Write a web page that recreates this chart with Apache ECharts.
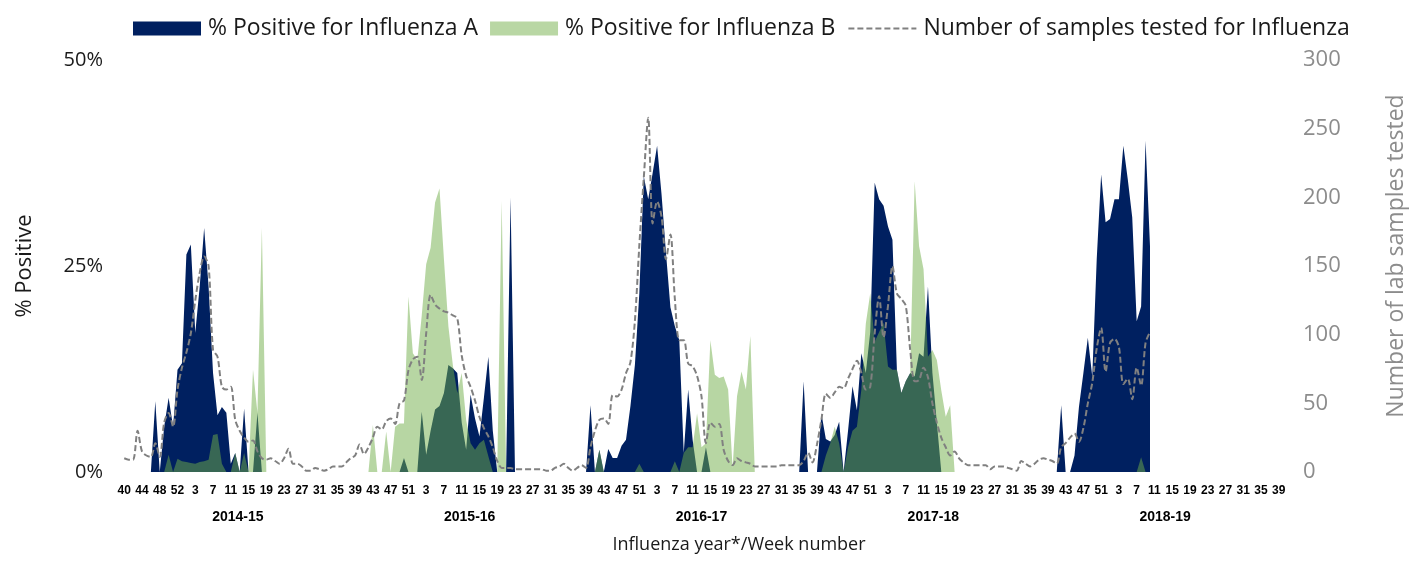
<!DOCTYPE html>
<html>
<head>
<meta charset="utf-8">
<script src="https://cdn.jsdelivr.net/npm/echarts@6/dist/echarts.min.js"></script>
<style>
  html, body { margin: 0; padding: 0; background: #fff; }
  #chart { width: 1419px; height: 561px; }
</style>
</head>
<body>
<div id="chart"></div>
<script>
// influenza seasons (week 40 -> week 39), 2014-15 has a week 53
const seasons = ['2014-15', '2015-16', '2016-17', '2017-18', '2018-19'];
const seasonLastWeek = [53, 52, 52, 52, 52];

// % positive for influenza A, one array per season
const fluA_1415 = [0,0,0,0,0,0,0,8.6,0,5.5, 9,5.5,12.4,13.2,26.4,27.6,16.9,22.5,29.6,22.5, 12,6.9,7.9,7.2,1,2.3,0,7.7,0,0, 7.2,0,0,0,0,0,0,0,0,0, 0,0,0,0,0,0,0,0,0,0, 0,0,0];
const fluA_1516 = [0,0,0,0,0,0,0,0,0,0, 1.7,0,0,0,7.3,2.1,5,7.6,8,9.6, 13,12.6,12,6,2.7,9.4,6.5,4.3,9,14, 5,0,0,0,33.3,0,0,0,0,0, 0,0,0,0,0,0,0,0,0,0, 0,0];
const fluA_1617 = [8.1,0,2.7,0,2.8,1.7,1.7,3.2,3.9,8, 13,21.7,35.9,33.1,36.3,39.6,33.7,26.6,20,17.7, 16,2.3,10,3.9,0,0,3,0,0,0, 0,0,0,0,0,0,0,0,0,0, 0,0,0,0,0,0,0,0,11,0, 0,0];
const fluA_1718 = [7.1,4,3.7,4.5,6.1,0,5,10.4,7.5,14.4, 12,17,35.1,33.1,32.3,29.8,28.2,12.4,9.6,11, 12,11.6,14.4,14,22.5,12,6,0,0,0, 0,0,0,0,0,0,0,0,0,0, 0,0,0,0,0,0,0,0,0,0, 0,0];
const fluA_1819 = [0,0,8.1,0,0,2,7.9,12,16.3,11.6, 25.8,36.1,30.3,30.7,33.1,33.1,39.6,35.5,30.9,18.3, 20.1,40.2,27.4,null,null,null,null,null,null,null, null,null,null,null,null,null,null,null,null,null, null,null,null,null,null,null,null,null,null,null, null,null];

// % positive for influenza B
const fluB_1415 = [0,0,0,0,0,0,0,0,0,0, 2.1,0,1.6,1.3,1.2,1.1,1,1.2,1.3,1.5, 4.5,4.6,1,0,0,2.3,0,2.3,0,12.4, 7.2,29.6,0,0,0,0,0,0,0,0, 0,0,0,0,0,0,0,0,0,0, 0,0,0];
const fluB_1516 = [0,0,0,5.7,0,0,4.9,0,5.5,5.9, 5.9,21.3,14.4,13.6,19,25.2,27.2,32.7,34.4,25.8, 17.7,13,9.6,12,6.3,3.5,2.7,3.5,3.9,1.9, 0,0,32.9,0,0,0,0,0,0,0, 0,0,0,0,0,0,0,0,0,0, 0,0];
const fluB_1617 = [0,0,2.7,0,0,0,0,0,0,0, 0,1,0,0,0,0,0,0,0,1.3, 0,2.3,3,3,7.1,3,3.5,16,11.8,11.4, 11.6,10,0.5,9.2,12.2,10,16.5,0,0,0, 0,0,0,0,0,0,0,0,0,0, 0,0];
const fluB_1718 = [0,2,3.5,5.5,3.5,0,3,5,5.5,10, 18,21.7,15.8,17,18.1,12.8,12.4,12.4,9.6,11, 12,35.3,27.4,24.6,14,14.8,13.6,9.9,6.7,8.1, 0,0,0,0,0,0,0,0,0,0, 0,0,0,0,0,0,0,0,0,0, 0,0];
const fluB_1819 = [0,0,0,0,0,0,0,0,0,0, 0,0,0,0,0,0,0,0,0,0, 1.8,0,0,null,null,null,null,null,null,null, null,null,null,null,null,null,null,null,null,null, null,null,null,null,null,null,null,null,null,null, null,null];

// number of samples tested
const tested_1415 = [10,9,9,30,15,12,11,21,11,36, 43,33,60,76,87,101,125,145,157,150, 89,84,62,60,62,38,30,25,22,23, 15,10,9,10,8,6,10,17,6,6, 4,1,1,3,2,1,2,4,4,4, 7,10,12];
const tested_1516 = [20,13,18,25,33,31,37,39,35,50, 52,74,82,84,67,101,129,122,119,117, 116,114,112,85,70,62,52,40,32,26, 18,8,3,3,3,2,2,2,2,2, 2,2,1,1,3,4,6,3,1,3, 5,3];
const tested_1617 = [18,30,38,39,35,56,55,60,72,80, 110,165,214,258,181,197,186,155,173,126, 96,96,79,77,70,55,21,36,33,35, 16,8,5,10,8,7,6,4,4,4, 4,4,4,5,5,5,5,5,8,14, 7,20];
const tested_1718 = [38,57,54,58,62,61,68,75,81,72, 60,62,101,128,98,121,150,130,126,121, 89,66,67,76,69,50,36,25,18,12, 15,10,7,5,5,5,5,5,2,4, 4,4,3,2,1,8,6,4,6,9, 10,9];
const tested_1819 = [8,6,18,21,25,28,22,32,50,65, 90,105,73,94,97,91,64,68,53,76, 63,94,102,null,null,null,null,null,null,null, null,null,null,null,null,null,null,null,null,null, null,null,null,null,null,null,null,null,null,null, null,null];

// week number categories
const weeks = [];
seasonLastWeek.forEach(function (last) {
  for (let w = 40; w <= last; w++) weeks.push(String(w));
  for (let w = 1; w <= 39; w++) weeks.push(String(w));
});

const fluA = [].concat(fluA_1415, fluA_1516, fluA_1617, fluA_1718, fluA_1819);
const fluB = [].concat(fluB_1415, fluB_1516, fluB_1617, fluB_1718, fluB_1819);
const tested = [].concat(tested_1415, tested_1516, tested_1617, tested_1718, tested_1819);

const chart = echarts.init(document.getElementById('chart'));
const option = {
  animation: false,
  textStyle: { fontFamily: 'Open Sans' },
  title: {
    text: 'Influenza year*/Week number',
    left: 734,
    top: 531,
    textAlign: 'center',
    textStyle: { fontSize: 18, fontWeight: 'normal', color: '#1a1a1a', fontFamily: 'Open Sans' }
  },
  legend: {
    left: 128,
    top: 12,
    itemWidth: 68,
    itemHeight: 14,
    itemGap: 12,
    textStyle: { fontSize: 23, color: '#1a1a1a', fontFamily: 'Open Sans', padding: [0, 0, 0, 2] },
    data: [
      { name: '% Positive for Influenza A', icon: 'rect', itemStyle: { color: '#002060' } },
      { name: '% Positive for Influenza B', icon: 'rect', itemStyle: { color: '#b9d7a4' } },
      { name: 'Number of samples tested for Influenza', itemStyle: { opacity: 0 } }
    ]
  },
  grid: { left: 122, right: 138, top: 60, bottom: 89 },
  xAxis: [
    {
      type: 'category',
      data: weeks,
      boundaryGap: true,
      axisLine: { show: false },
      axisTick: { show: false },
      axisLabel: {
        interval: 3,
        fontSize: 12,
        fontWeight: 'bold',
        color: '#000',
        margin: 13,
        fontFamily: "'Liberation Sans Narrow', 'Liberation Sans'"
      }
    },
    {
      type: 'category',
      data: seasons,
      position: 'bottom',
      axisLine: { show: false },
      axisTick: { show: false },
      axisLabel: {
        fontSize: 14,
        fontWeight: 'bold',
        color: '#000',
        margin: 38,
        fontFamily: 'Liberation Sans'
      }
    }
  ],
  yAxis: [
    {
      type: 'value',
      min: 0,
      max: 50,
      interval: 25,
      name: '% Positive',
      nameLocation: 'middle',
      nameRotate: 90,
      nameGap: 86,
      nameTextStyle: { fontSize: 22, color: '#1a1a1a' },
      axisLine: { show: false },
      axisTick: { show: false },
      splitLine: { show: false },
      axisLabel: { formatter: '{value}%', fontSize: 20, color: '#1a1a1a', margin: 19 }
    },
    {
      type: 'value',
      min: 0,
      max: 300,
      interval: 50,
      position: 'right',
      name: 'Number of lab samples tested',
      nameLocation: 'middle',
      nameRotate: 90,
      nameGap: 104,
      nameTextStyle: { fontSize: 23, color: '#8c8c8c', padding: [0, 0, 0, 20] },
      axisLine: { show: false },
      axisTick: { show: false },
      splitLine: { show: false },
      axisLabel: { fontSize: 22, color: '#8c8c8c', margin: 22 }
    }
  ],
  series: [
    {
      name: '% Positive for Influenza A',
      type: 'line',
      data: fluA,
      yAxisIndex: 0,
      symbol: 'none',
      showSymbol: false,
      lineStyle: { width: 0 },
      itemStyle: { color: '#002060' },
      areaStyle: { color: '#002060', opacity: 1 },
      z: 1
    },
    {
      name: '% Positive for Influenza B',
      type: 'line',
      data: fluB,
      yAxisIndex: 0,
      symbol: 'none',
      showSymbol: false,
      lineStyle: { width: 0 },
      itemStyle: { color: '#b9d7a4' },
      areaStyle: { color: '#70ad47', opacity: 0.5 },
      z: 2
    },
    {
      name: 'Number of samples tested for Influenza',
      type: 'line',
      data: tested,
      yAxisIndex: 1,
      symbol: 'none',
      showSymbol: false,
      smooth: 0.3,
      itemStyle: { color: '#808080' },
      lineStyle: { color: '#808080', width: 2, type: [6, 3] },
      z: 3
    }
  ]
};
chart.setOption(option);
</script>
</body>
</html>
